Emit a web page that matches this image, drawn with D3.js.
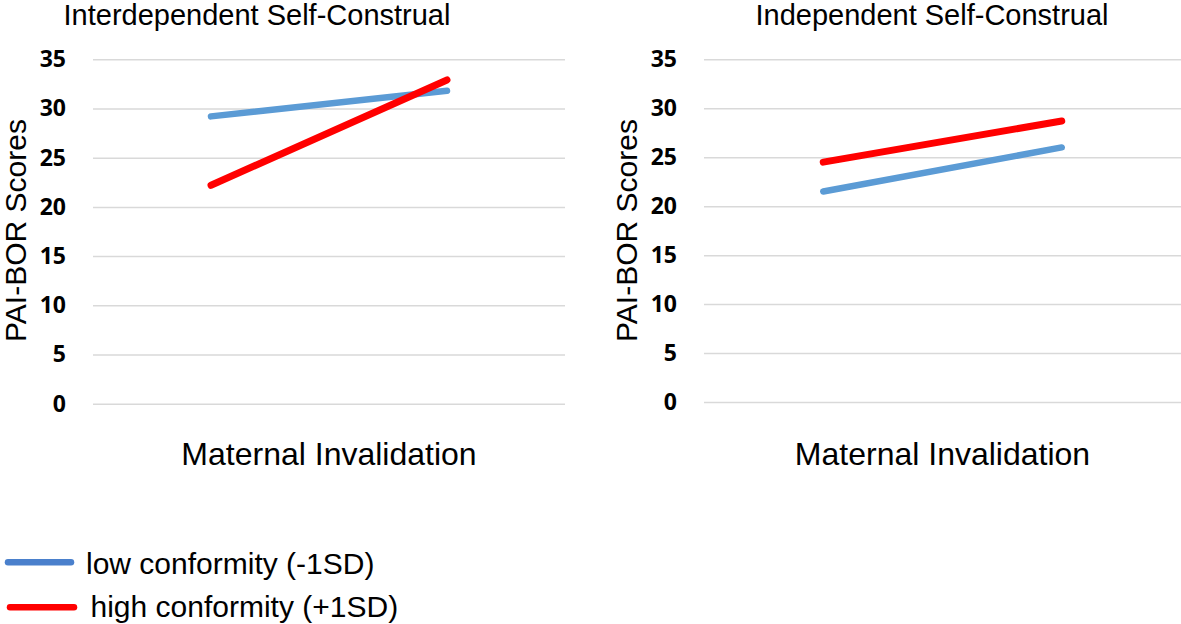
<!DOCTYPE html>
<html>
<head>
<meta charset="utf-8">
<script src="https://cdn.jsdelivr.net/npm/d3@7"></script>
<style>
  body { margin: 0; background: #fff; }
  svg text { font-family: "Liberation Sans", Arial, sans-serif; fill: #000; }
  .tick text { font-family: "Open Sans", sans-serif; font-weight: 700; font-size: 23px; }
</style>
</head>
<body>
<div id="chart"></div>
<script>
// data
var categories = ["Low", "High"];
var yTicks = [0, 5, 10, 15, 20, 25, 30, 35];
var interLow = [29.2, 31.8];
var interHigh = [22.2, 32.9];
var indepLow = [21.5, 26.0];
var indepHigh = [24.5, 28.7];
var seriesNames = ["low conformity (-1SD)", "high conformity (+1SD)"];
var panelTitles = ["Interdependent Self-Construal", "Independent Self-Construal"];

var blue = "#5B9BD5", red = "#FF0000";

var svg = d3.select("#chart")
  .append("svg")
  .attr("width", 1181)
  .attr("height", 624);

// one panel per self-construal type
var panels = [
  {title: panelTitles[0], titleX: 257, left: 93, width: 472, bottom: 403.7, low: interLow, high: interHigh},
  {title: panelTitles[1], titleX: 932, left: 704, width: 477, bottom: 402, low: indepLow, high: indepHigh}
];

panels.forEach(function(p) {
  var g = svg.append("g").attr("transform", "translate(" + p.left + ",0)");

  var x = d3.scalePoint()
    .domain(categories)
    .range([0, p.width])
    .padding(0.5);

  var y = d3.scaleLinear()
    .domain([0, 35])
    .range([p.bottom, 59.3]);

  // y axis + gridlines
  var axis = g.append("g")
    .call(d3.axisLeft(y).tickValues(yTicks).tickSize(-p.width).tickPadding(27));
  axis.select(".domain").remove();
  axis.selectAll(".tick line").attr("stroke", "#d9d9d9").attr("stroke-width", 1.5);

  var line = d3.line()
    .x(function(d, i) { return x(categories[i]); })
    .y(function(d) { return y(d); });

  g.append("path")
    .datum(p.low)
    .attr("d", line)
    .attr("fill", "none")
    .attr("stroke", blue)
    .attr("stroke-width", 6.5)
    .attr("stroke-linecap", "round");

  g.append("path")
    .datum(p.high)
    .attr("d", line)
    .attr("fill", "none")
    .attr("stroke", red)
    .attr("stroke-width", 7)
    .attr("stroke-linecap", "round");

  // titles
  svg.append("text")
    .attr("x", p.titleX)
    .attr("y", 25)
    .attr("text-anchor", "middle")
    .style("font-size", "29px")
    .text(p.title);

  g.append("text")
    .attr("x", p.width / 2)
    .attr("y", 465)
    .attr("text-anchor", "middle")
    .style("font-size", "32px")
    .text("Maternal Invalidation");

  g.append("text")
    .attr("transform", "translate(-67," + 230.5 + ") rotate(-90)")
    .attr("text-anchor", "middle")
    .style("font-size", "30px")
    .text("PAI-BOR Scores");
});

// legend
var legend = svg.append("g");
var legendRows = [
  {name: seriesNames[0], color: "#4A80CC", x1: 8, x2: 71, y: 562.3, tx: 86, ty: 574},
  {name: seriesNames[1], color: red, x1: 10, x2: 74, y: 607.3, tx: 90.5, ty: 617}
];
legendRows.forEach(function(r) {
  legend.append("line")
    .attr("x1", r.x1).attr("x2", r.x2)
    .attr("y1", r.y).attr("y2", r.y)
    .attr("stroke", r.color)
    .attr("stroke-width", 6.5)
    .attr("stroke-linecap", "round");
  legend.append("text")
    .attr("x", r.tx)
    .attr("y", r.ty)
    .style("font-size", "30px")
    .text(r.name);
});
</script>
</body>
</html>
